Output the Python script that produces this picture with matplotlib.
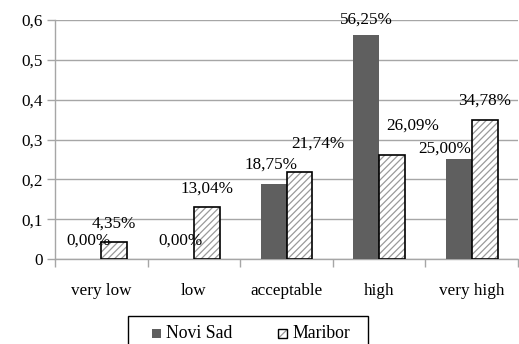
import matplotlib
matplotlib.use("Agg")
import matplotlib.pyplot as plt
from matplotlib.patches import Rectangle
import numpy as np

categories = ["very low", "low", "acceptable", "high", "very high"]
novi_sad = [0.0, 0.0, 0.1875, 0.5625, 0.25]
maribor = [0.0435, 0.1304, 0.2174, 0.2609, 0.3478]
series_names = ["Novi Sad", "Maribor"]
y_ticks = [0, 0.1, 0.2, 0.3, 0.4, 0.5, 0.6]
y_tick_labels = ["0", "0,1", "0,2", "0,3", "0,4", "0,5", "0,6"]

# label nudges in points (dx, dy above bar top) to keep labels from colliding
ns_offsets = [(0, 13), (0, 13), (-2, 14), (0, 11), (-10, 8)]
mb_offsets = [(0, 13), (0, 13), (13, 21), (15, 21), (0, 14)]

plt.rcParams["font.family"] = ["Liberation Serif", "DejaVu Serif"]
plt.rcParams["hatch.linewidth"] = 0.9
FS = 12.3
W, H = 519, 344

fig = plt.figure(figsize=(W / 100, H / 100), dpi=100)
ax = fig.add_axes([55 / W, 1 - 259 / H, 463 / W, 239 / H])

x = np.arange(len(categories))
w = 0.28
ns_color = "#5f5f5f"
hatch_color = "#9a9a9a"

ax.bar(x - w / 2, novi_sad, w, color=ns_color, linewidth=0, zorder=3)
# hatched fill first, then the black outline on top
ax.bar(x + w / 2, maribor, w, color="white", edgecolor=hatch_color, linewidth=0,
       hatch="/////", zorder=3)
ax.bar(x + w / 2, maribor, w, fill=False, edgecolor="black", linewidth=1.2, zorder=4)

def pct(v):
    return f"{v * 100:.2f}%".replace(".", ",")

for xi, v, (dx, dy) in zip(x - w / 2, novi_sad, ns_offsets):
    ax.annotate(pct(v), (xi, v), xytext=(dx, dy), textcoords="offset points",
                ha="center", va="center", fontsize=FS, zorder=5)
for xi, v, (dx, dy) in zip(x + w / 2, maribor, mb_offsets):
    ax.annotate(pct(v), (xi, v), xytext=(dx, dy), textcoords="offset points",
                ha="center", va="center", fontsize=FS, zorder=5)

ax.set_xlim(-0.5, len(categories) - 0.5)
ax.set_ylim(0, 0.6)
ax.set_yticks(y_ticks)
ax.set_yticklabels(y_tick_labels, fontsize=FS)
ax.yaxis.grid(True, color="#a6a6a6", linewidth=1, zorder=0)
ax.set_axisbelow(True)

ax.set_xticks(x)
ax.set_xticklabels(categories, fontsize=FS)
ax.tick_params(axis="x", length=0, pad=17)
ax.set_xticks(np.arange(len(categories) + 1) - 0.5, minor=True)
ax.tick_params(axis="x", which="minor", length=6, color="#a6a6a6", width=1)
ax.tick_params(axis="y", length=6, color="#a6a6a6", width=1, pad=3)

for s in ["top", "right"]:
    ax.spines[s].set_visible(False)
for s in ["left", "bottom"]:
    ax.spines[s].set_color("#a6a6a6")
    ax.spines[s].set_linewidth(1)

# legend box drawn in pixel coordinates of the figure
def fx(px):
    return px / W

def fy(py):
    return 1 - py / H

LFS = 12.8
fig.patches.append(Rectangle((fx(128), fy(350)), fx(368) - fx(128), fy(316) - fy(350),
                             transform=fig.transFigure, fill=False,
                             edgecolor="black", linewidth=1))
sq = 9
ty = 333
fig.patches.append(Rectangle((fx(152), fy(ty + sq / 2)), sq / W, sq / H,
                             transform=fig.transFigure, facecolor=ns_color, linewidth=0))
fig.text(fx(166), fy(ty), series_names[0], fontsize=LFS, va="center", ha="left")
fig.patches.append(Rectangle((fx(278), fy(ty + sq / 2)), sq / W, sq / H,
                             transform=fig.transFigure, facecolor="white",
                             edgecolor=hatch_color, linewidth=0, hatch="////"))
fig.patches.append(Rectangle((fx(278), fy(ty + sq / 2)), sq / W, sq / H,
                             transform=fig.transFigure, fill=False,
                             edgecolor="black", linewidth=1))
fig.text(fx(292), fy(ty), series_names[1], fontsize=LFS, va="center", ha="left")

fig.savefig("out.png", dpi=100)
